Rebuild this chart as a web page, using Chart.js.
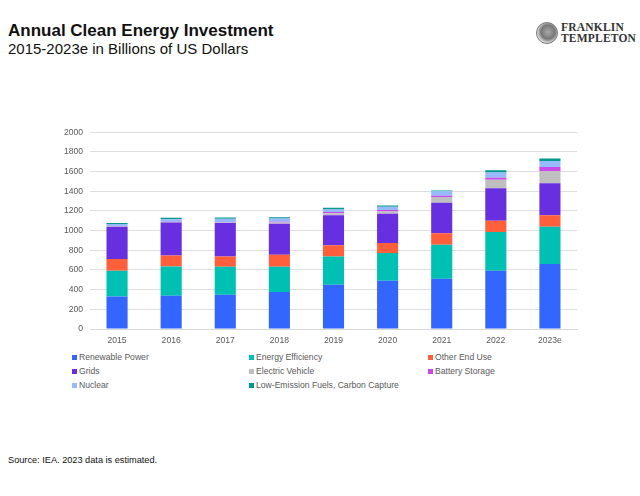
<!DOCTYPE html>
<html lang="en">
<head>
    <meta charset="UTF-8">
    <title>Annual Clean Energy Investment</title>
    <script src="https://cdn.jsdelivr.net/npm/chart.js"></script>
    <style>
        body {
            margin: 0;
            width: 640px;
            height: 496px;
            background: #fff;
            font-family: 'Liberation Sans', Arial, sans-serif;
            position: relative;
            overflow: hidden;
        }
        .title {
            position: absolute;
            left: 8px;
            top: 21px;
            font-size: 17px;
            font-weight: bold;
            color: #111;
        }
        .subtitle {
            position: absolute;
            left: 8px;
            top: 40px;
            font-size: 15px;
            color: #111;
        }
        .logo {
            position: absolute;
            left: 534px;
            top: 21px;
            width: 104px;
            height: 26px;
        }
        .logo .coin {
            position: absolute;
            left: 2px;
            top: 1px;
            width: 20px;
            height: 20px;
            border-radius: 50%;
            border: 1px solid #777;
            background: radial-gradient(circle at 55% 45%, #aaa 0, #777 45%, #ddd 70%);
        }
        .logo .name {
            position: absolute;
            left: 27px;
            font-family: 'Liberation Serif', 'DejaVu Serif', serif;
            font-weight: bold;
            font-size: 11.5px;
            color: #333;
            letter-spacing: 0.2px;
            line-height: 11px;
        }
        .chart-box {
            position: absolute;
            left: 0;
            top: 120px;
            width: 640px;
            height: 230px;
        }
        .legend {
            position: absolute;
            left: 0;
            top: 350px;
            width: 640px;
            font-size: 8.6px;
            color: #595959;
        }
        .legend .item {
            position: absolute;
            white-space: nowrap;
        }
        .legend .box {
            display: inline-block;
            width: 5px;
            height: 5px;
            margin-right: 2px;
            vertical-align: 0px;
        }
        .source {
            position: absolute;
            left: 8px;
            top: 455px;
            font-size: 9.2px;
            color: #111;
        }
    </style>
</head>
<body>
    <div class="title">Annual Clean Energy Investment</div>
    <div class="subtitle">2015-2023e in Billions of US Dollars</div>
    <div class="logo">
        <div class="coin"></div>
        <div class="name" style="top:1px">FRANKLIN</div>
        <div class="name" style="top:12px">TEMPLETON</div>
    </div>
    <div class="chart-box">
        <canvas id="investChart" width="640" height="230"></canvas>
    </div>
    <div class="legend" id="legend"></div>
    <div class="source">Source: IEA. 2023 data is estimated.</div>

    <script>
        const years = ['2015', '2016', '2017', '2018', '2019', '2020', '2021', '2022', '2023e'];

        // billions of USD
        const renewablePower = [330, 338, 348, 375, 450, 490, 511, 592, 660];
        const energyEfficiency = [262, 298, 284, 257, 287, 281, 345, 393, 378];
        const otherEndUse = [118, 111, 105, 122, 115, 102, 118, 114, 119];
        const grids = [328, 335, 339, 315, 305, 297, 308, 332, 325];
        const electricVehicle = [5, 5, 4, 12, 20, 24, 58, 85, 122];
        const batteryStorage = [2, 3, 2, 8, 13, 14, 14, 20, 41];
        const nuclear = [22, 25, 38, 35, 24, 34, 46, 54, 61];
        const lowEmissionFuels = [10, 15, 12, 12, 17, 14, 8, 22, 27];

        const yTicks = [0, 200, 400, 600, 800, 1000, 1200, 1400, 1600, 1800, 2000];

        const series = [
            { label: 'Renewable Power', data: renewablePower, color: '#3366ff' },
            { label: 'Energy Efficiency', data: energyEfficiency, color: '#00bfb3' },
            { label: 'Other End Use', data: otherEndUse, color: '#ff5f3a' },
            { label: 'Grids', data: grids, color: '#672fe0' },
            { label: 'Electric Vehicle', data: electricVehicle, color: '#bfbfbf' },
            { label: 'Battery Storage', data: batteryStorage, color: '#c94ae8' },
            { label: 'Nuclear', data: nuclear, color: '#96b9ff' },
            { label: 'Low-Emission Fuels, Carbon Capture', data: lowEmissionFuels, color: '#00998c' }
        ];

        const datasets = series.map(s => ({
            label: s.label,
            data: s.data,
            backgroundColor: s.color,
            borderWidth: 0,
            categoryPercentage: 1.0,
            barPercentage: 0.39
        }));

        new Chart(document.getElementById('investChart').getContext('2d'), {
            type: 'bar',
            data: { labels: years, datasets: datasets },
            options: {
                responsive: false,
                animation: false,
                layout: { padding: { top: 12, right: 63, left: 0, bottom: 0 } },
                plugins: {
                    legend: { display: false },
                    tooltip: { enabled: false }
                },
                scales: {
                    x: {
                        stacked: true,
                        grid: { display: false, drawTicks: false },
                        border: { color: '#d9d9d9', width: 1 },
                        ticks: {
                            color: '#595959',
                            font: { family: "'Liberation Sans', Arial", size: 8.6 },
                            padding: 6,
                            maxRotation: 0
                        },
                        afterFit: s => { s.height = 21; }
                    },
                    y: {
                        stacked: true,
                        min: 0,
                        max: 2000,
                        afterBuildTicks: s => { s.ticks = yTicks.map(v => ({ value: v })); },
                        grid: { color: '#dedede', lineWidth: 1, drawTicks: false },
                        border: { display: false },
                        ticks: {
                            color: '#595959',
                            font: { family: "'Liberation Sans', Arial", size: 8.6 },
                            padding: 7,
                            callback: v => String(v)
                        },
                        afterFit: s => { s.width = 90; }
                    }
                }
            }
        });

        // three-column legend, row by row like the original
        const legend = document.getElementById('legend');
        const colX = [72, 249, 428];
        const rowY = [2, 16, 30];
        series.forEach((s, i) => {
            const item = document.createElement('div');
            item.className = 'item';
            item.style.left = colX[i % 3] + 'px';
            item.style.top = rowY[Math.floor(i / 3)] + 'px';
            item.innerHTML = '<span class="box" style="background:' + s.color + '"></span>' + s.label;
            legend.appendChild(item);
        });
    </script>
</body>
</html>
